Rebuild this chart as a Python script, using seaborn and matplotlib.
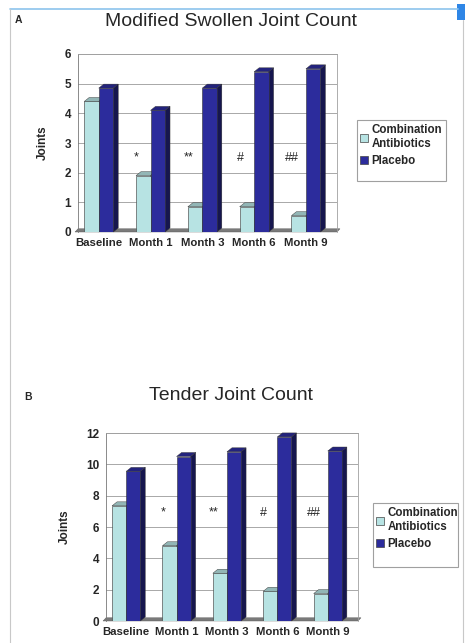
import pandas as pd
import matplotlib
matplotlib.use("Agg")
import matplotlib.pyplot as plt
import seaborn as sns
from matplotlib.patches import Polygon, Patch, Rectangle
from matplotlib.lines import Line2D

# values
visits = ["Baseline", "Month 1", "Month 3", "Month 6", "Month 9"]
groups = ["Combination\nAntibiotics", "Placebo"]
swollen_combo = [4.4, 1.9, 0.85, 0.85, 0.55]
swollen_placebo = [4.85, 4.1, 4.85, 5.4, 5.5]
tender_combo = [7.35, 4.8, 3.05, 1.9, 1.75]
tender_placebo = [9.55, 10.5, 10.8, 11.75, 10.85]
sig_marks = ["", "*", "**", "#", "##"]

CYAN = "#b7e3e3"
NAVY = "#2c2c9c"
W, H = 465, 643

sns.set_style("white")
plt.rcParams["font.family"] = ["Liberation Sans", "DejaVu Sans"]


def shade(c, f):
    r, g, b = matplotlib.colors.to_rgb(c)
    return (r * f, g * f, b * f)


def draw_panel(fig, box, combo, placebo, ymax, ystep, mark_y, title, title_y,
               letter, letter_xy, legend_box):
    l, t, r, b = box
    ax = fig.add_axes([l / W, 1 - b / H, (r - l) / W, (b - t) / H])
    df = pd.DataFrame({
        "visit": visits * 2,
        "joints": combo + placebo,
        "group": [groups[0]] * len(visits) + [groups[1]] * len(visits),
    })
    sns.barplot(data=df, x="visit", y="joints", hue="group", palette=[CYAN, NAVY],
                saturation=1, width=0.56, edgecolor="#333333", linewidth=0.4,
                legend=False, ax=ax)
    ax.set_xlim(-0.4, 4.6)
    ax.set_ylim(0, ymax)
    ax.set_yticks(range(0, ymax + 1, ystep))
    ax.set_xticks(range(len(visits)))
    ax.set_xticklabels(visits, fontsize=8.2, fontweight="bold")
    ax.set_xticks([x + 0.5 for x in range(len(visits) - 1)], minor=True)
    ax.tick_params(axis="x", which="major", length=0, pad=4)
    ax.tick_params(axis="x", which="minor", length=3, color="#888888")
    ax.tick_params(axis="y", length=3, color="#888888", pad=2, labelsize=8.5)
    for lab in ax.get_yticklabels():
        lab.set_fontweight("bold")
    ax.set_xlabel("")
    ax.set_ylabel("Joints", fontsize=8.5, fontweight="bold", labelpad=11)
    ax.yaxis.grid(True, color="#9a9a9a", linewidth=0.6)
    ax.set_axisbelow(True)
    for sp in ax.spines.values():
        sp.set_color("#a0a0a0")
        sp.set_linewidth(0.6)
    ax.spines["bottom"].set_visible(False)
    ax.spines["left"].set_color("#777777")

    # 3D depth in data units
    dx = 5 / ((r - l) / 5.0)
    dy = 4 / ((b - t) / ymax)

    floor = Polygon([(-0.4 - dx * 0.6, 0), (4.6, 0), (4.6 + dx * 0.6, dy * 0.8),
                     (-0.4, dy * 0.8)], closed=True, facecolor="#7a7a7a",
                    edgecolor="#555555", linewidth=0.3, zorder=1.5, clip_on=False)
    ax.add_patch(floor)

    n = len(visits)
    for i, p in enumerate(list(ax.patches)[:2 * n]):
        base_z = 2 if i < n else 3
        p.set_zorder(base_z + 0.2)
        x0 = p.get_x()
        w = p.get_width()
        h = p.get_height()
        col = p.get_facecolor()
        top = Polygon([(x0, h), (x0 + w, h), (x0 + w + dx, h + dy), (x0 + dx, h + dy)],
                      closed=True, facecolor=shade(col, 0.8), edgecolor="#333333",
                      linewidth=0.3, zorder=base_z + 0.1, clip_on=False)
        side = Polygon([(x0 + w, 0), (x0 + w + dx, dy), (x0 + w + dx, h + dy), (x0 + w, h)],
                       closed=True, facecolor=shade(col, 0.5), edgecolor="#333333",
                       linewidth=0.3, zorder=base_z + 0.1, clip_on=False)
        ax.add_patch(top)
        ax.add_patch(side)

    for i, m in enumerate(sig_marks):
        if m:
            ax.text(i - 0.27, mark_y, m, ha="center", va="center", fontsize=9, zorder=5)

    fig.text(231 / W, 1 - title_y / H, title, ha="center", va="center", fontsize=14)
    fig.text(letter_xy[0] / W, 1 - letter_xy[1] / H, letter, ha="center", va="center",
             fontsize=7.5, fontweight="bold")

    lx0, ly0, lx1, ly1 = legend_box
    fig.add_artist(Rectangle((lx0 / W, 1 - ly1 / H), (lx1 - lx0) / W, (ly1 - ly0) / H,
                             transform=fig.transFigure, facecolor="white",
                             edgecolor="#a0a0a0", linewidth=0.8))
    handles = [Patch(facecolor=CYAN, edgecolor="#444444", linewidth=0.5),
               Patch(facecolor=NAVY, edgecolor="#444444", linewidth=0.5)]
    fig.legend(handles, groups, loc="upper left",
               bbox_to_anchor=((lx0 + 1) / W, 1 - (ly0 + 2) / H),
               frameon=False, prop={"weight": "bold", "size": 8.3},
               handlelength=0.7, handleheight=0.7, handletextpad=0.25,
               borderpad=0.2, labelspacing=0.4, borderaxespad=0)
    return ax


fig = plt.figure(figsize=(W / 100, H / 100), dpi=100)

draw_panel(fig, (78, 54, 337, 232), swollen_combo, swollen_placebo, 6, 1, 2.5,
           "Modified Swollen Joint Count", 22, "A", (18, 20), (357, 120, 446, 181))
draw_panel(fig, (106, 433, 358, 621), tender_combo, tender_placebo, 12, 2, 6.9,
           "Tender Joint Count", 395, "B", (28, 397), (373, 503, 458, 567))

# screenshot frame
fig.add_artist(Line2D([10 / W, 458 / W], [1 - 9 / H, 1 - 9 / H], transform=fig.transFigure,
                      color="#8cc4ec", linewidth=1.2))
fig.add_artist(Line2D([10 / W, 10 / W], [1 - 9 / H, 0], transform=fig.transFigure,
                      color="#c8c8c8", linewidth=0.8))
fig.add_artist(Line2D([463 / W, 463 / W], [1 - 20 / H, 0], transform=fig.transFigure,
                      color="#c8c8c8", linewidth=0.8))
fig.add_artist(Rectangle((457 / W, 1 - 20 / H), 8 / W, 16 / H, transform=fig.transFigure,
                         facecolor="#2f86e6", edgecolor="none"))

fig.savefig("out.png", dpi=100)
